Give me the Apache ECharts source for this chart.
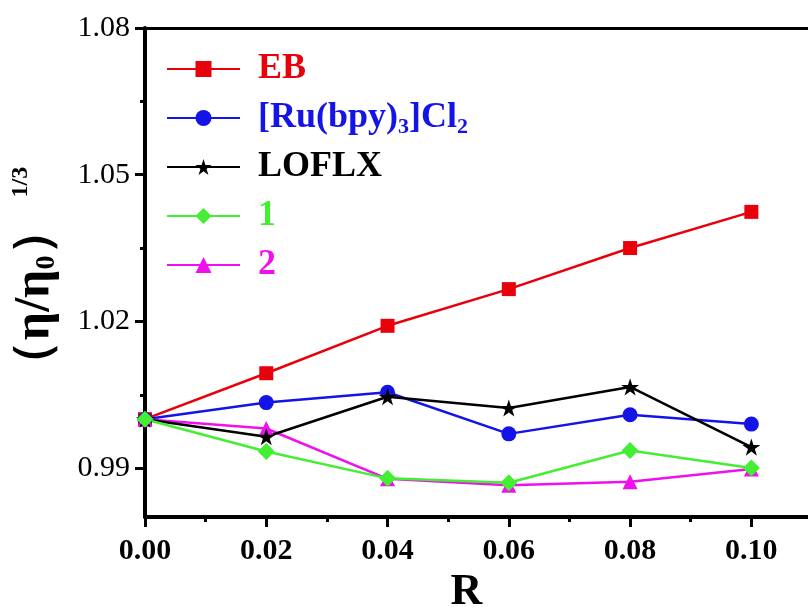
<!DOCTYPE html>
<html>
<head>
<meta charset="utf-8">
<style>
  html, body { margin: 0; padding: 0; background: #fff; }
  #chart { width: 808px; height: 607px; }
</style>
<script src="https://cdn.jsdelivr.net/npm/echarts@6/dist/echarts.min.js"></script>
</head>
<body>
<div id="chart"></div>
<script>
// R values on the x axis
const rValues = [0.00, 0.02, 0.04, 0.06, 0.08, 0.10];

// (η/η0)^1/3 for each compound
const ebValues     = [1.0000, 1.0094, 1.0191, 1.0266, 1.0350, 1.0424];
const ruValues     = [1.0000, 1.0034, 1.0055, 0.9970, 1.0009, 0.9990];
const loflxValues  = [1.0000, 0.9964, 1.0046, 1.0023, 1.0066, 0.9943];
const oneValues    = [1.0000, 0.9934, 0.9879, 0.9870, 0.9936, 0.9900];
const twoValues    = [1.0000, 0.9981, 0.9878, 0.9865, 0.9872, 0.9898];

const yMajorTicks = [0.99, 1.02, 1.05, 1.08];
const yMinorTicks = [1.005, 1.035, 1.065];

const FONT = "'Liberation Serif', 'Times New Roman', serif";
const STAR = 'path://M50,0L61.2,34.6L97.6,34.5L68.1,55.9L79.4,90.5L50,69L20.6,90.5L31.9,55.9L2.4,34.5L38.8,34.6Z';

const pairs = vals => rValues.map((r, i) => [r, vals[i]]);

const chart = echarts.init(document.getElementById('chart'));

function lineSeries(name, vals, color, symbol, size) {
  return {
    name: name,
    type: 'line',
    data: pairs(vals),
    symbol: symbol,
    symbolSize: size,
    symbolKeepAspect: true,
    lineStyle: { color: color, width: 2.5 },
    itemStyle: { color: color },
    emphasis: { disabled: true }
  };
}

const legendRich = {
  r:  { color: '#e8000b', fontFamily: FONT, fontWeight: 'bold', fontSize: 36, lineHeight: 40 },
  b:  { color: '#1414e6', fontFamily: FONT, fontWeight: 'bold', fontSize: 36, lineHeight: 40 },
  bs: { color: '#1414e6', fontFamily: FONT, fontWeight: 'bold', fontSize: 22, lineHeight: 14, verticalAlign: 'bottom' },
  k:  { color: '#000000', fontFamily: FONT, fontWeight: 'bold', fontSize: 36, lineHeight: 40 },
  g:  { color: '#44ee33', fontFamily: FONT, fontWeight: 'bold', fontSize: 36, lineHeight: 40 },
  m:  { color: '#ee11ee', fontFamily: FONT, fontWeight: 'bold', fontSize: 36, lineHeight: 40 }
};

const legendText = {
  'EB': '{r|EB}',
  '[Ru(bpy)3]Cl2': '{b|[Ru(bpy)}{bs|3}{b|]Cl}{bs|2}',
  'LOFLX': '{k|LOFLX}',
  '1': '{g|1}',
  '2': '{m|2}'
};

const gridBox = { left: 145, top: 28, width: 667, height: 489, containLabel: false, outerBoundsMode: 'none' };

chart.setOption({
  animation: false,
  backgroundColor: '#fff',
  grid: [gridBox, Object.assign({}, gridBox)],
  legend: {
    left: 166,
    top: 49,
    padding: 0,
    orient: 'vertical',
    itemWidth: 73,
    itemHeight: 20,
    itemGap: 9,
    data: ['EB', '[Ru(bpy)3]Cl2', 'LOFLX', '1', '2'],
    formatter: name => legendText[name],
    textStyle: { rich: legendRich, fontFamily: FONT, fontSize: 36, lineHeight: 40, padding: [0, 0, 0, 13] }
  },
  xAxis: [{
    type: 'value',
    min: 0,
    max: 0.11,
    interval: 0.02,
    name: 'R',
    nameLocation: 'middle',
    nameGap: 52,
    nameTextStyle: { fontFamily: FONT, fontWeight: 'bold', fontSize: 44, color: '#000', lineHeight: 44, padding: [0, 24, 0, 0] },
    axisLine: { lineStyle: { color: '#000', width: 4 } },
    axisTick: { length: 10, lineStyle: { color: '#000', width: 3 } },
    minorTick: { show: true, splitNumber: 2, length: 5, lineStyle: { color: '#000', width: 3 } },
    splitLine: { show: false },
    axisLabel: {
      margin: 19,
      color: '#000',
      fontFamily: FONT,
      fontWeight: 'bold',
      fontSize: 30,
      showMaxLabel: false,
      formatter: v => (v > 0.105 ? '' : v.toFixed(2))
    }
  }, {
    type: 'value',
    position: 'top',
    min: 0,
    max: 0.11,
    axisLine: { lineStyle: { color: '#000', width: 3 } },
    axisTick: { show: false },
    axisLabel: { show: false },
    splitLine: { show: false }
  }, {
    // hidden x axis of the second grid (used only for the minor y ticks)
    gridIndex: 1,
    type: 'value',
    min: 0,
    max: 0.11,
    show: false
  }],
  yAxis: [{
    type: 'value',
    min: 0.98,
    max: 1.08,
    position: 'left',
    name: '{p|（η/η}{s|0}{p|）}{t|1/3}',
    nameLocation: 'middle',
    nameGap: 84,
    nameTextStyle: {
      color: '#000',
      padding: [0, 12, 0, 0],
      rich: {
        p: { fontFamily: FONT, fontWeight: 'bold', fontSize: 50, lineHeight: 52 },
        s: { fontFamily: FONT, fontWeight: 'bold', fontSize: 28, lineHeight: 20, verticalAlign: 'bottom' },
        t: { fontFamily: FONT, fontWeight: 'bold', fontSize: 24, lineHeight: 22, verticalAlign: 'top', padding: [0, 0, 0, 8] }
      }
    },
    axisLine: { lineStyle: { color: '#000', width: 4 } },
    axisTick: { customValues: yMajorTicks, length: 10, lineStyle: { color: '#000', width: 3 } },
    splitLine: { show: false },
    axisLabel: {
      customValues: yMajorTicks,
      margin: 15,
      color: '#000',
      fontFamily: FONT,
      fontSize: 30,
      formatter: v => v.toFixed(2)
    }
  }, {
    // minor ticks on the left axis, from a second grid at the same place
    gridIndex: 1,
    type: 'value',
    min: 0.98,
    max: 1.08,
    position: 'left',
    axisLine: { show: false },
    axisTick: { customValues: yMinorTicks, length: 5, lineStyle: { color: '#000', width: 3 } },
    axisLabel: { show: false },
    splitLine: { show: false }
  }],
  series: [
    lineSeries('EB', ebValues, '#e8000b', 'rect', 14),
    lineSeries('[Ru(bpy)3]Cl2', ruValues, '#1414e6', 'circle', 15),
    lineSeries('2', twoValues, '#ee11ee', 'triangle', 15),
    lineSeries('LOFLX', loflxValues, '#000000', STAR, 18),
    lineSeries('1', oneValues, '#44ee33', 'diamond', 17)
  ]
});
</script>
</body>
</html>
